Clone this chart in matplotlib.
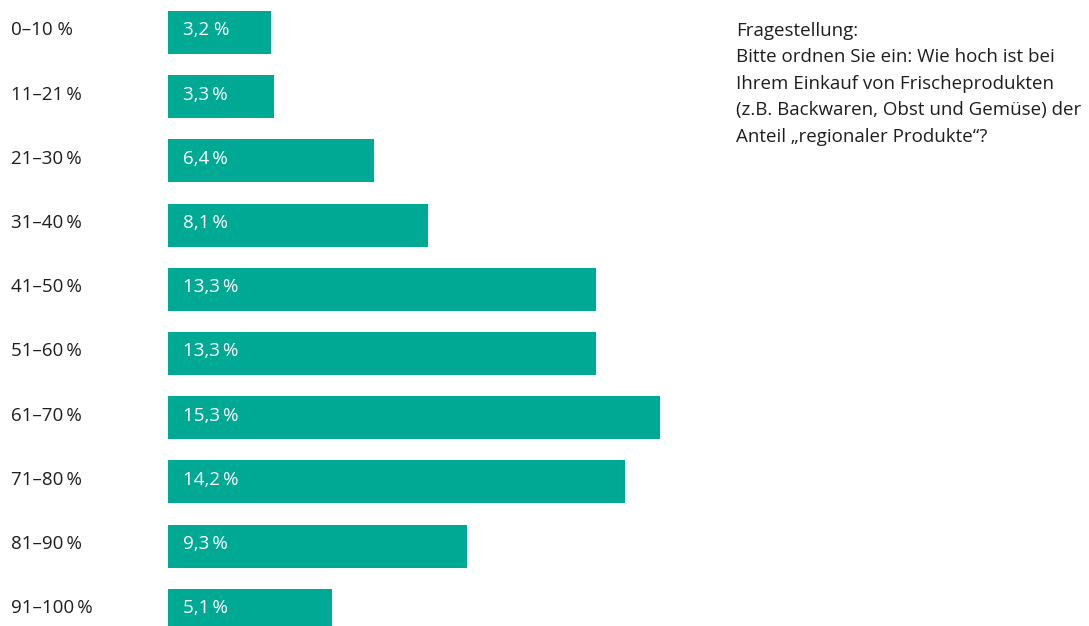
import matplotlib.pyplot as plt
from matplotlib.transforms import blended_transform_factory, offset_copy

plt.rcParams['font.family'] = ['Open Sans', 'DejaVu Sans']

# Anteil regionaler Produkte am Einkauf von Frischeprodukten
categories = ['0–10 %', '11–21\u2009%', '21–30\u2009%', '31–40\u2009%', '41–50\u2009%',
              '51–60\u2009%', '61–70\u2009%', '71–80\u2009%', '81–90\u2009%', '91–100\u2009%']
shares = [3.2, 3.3, 6.4, 8.1, 13.3, 13.3, 15.3, 14.2, 9.3, 5.1]
value_labels = ['3,2 %', '3,3\u2009%', '6,4\u2009%', '8,1\u2009%', '13,3\u2009%',
                '13,3\u2009%', '15,3\u2009%', '14,2\u2009%', '9,3\u2009%', '5,1\u2009%']

question = ('Fragestellung:\n'
            'Bitte ordnen Sie ein: Wie hoch ist bei\n'
            'Ihrem Einkauf von Frischeprodukten\n'
            '(z.B. Backwaren, Obst und Gemüse) der\n'
            'Anteil „regionaler Produkte“?')

bar_color = '#00a994'
text_color = '#1e1e1e'
fs = 13.5

W, H = 1089, 626
fig = plt.figure(figsize=(W / 100, H / 100), dpi=100)

# axes spans from the bar baseline to the question text column
left_px, right_px = 168, 700
ax = fig.add_axes([left_px / W, 0, (right_px - left_px) / W, 1])

px_per_unit = 32.16
row_px = 64.2
first_center_px = 32.5

ypos = list(range(len(categories)))
ax.barh(ypos, shares, height=43 / row_px, color=bar_color, left=0)
ax.set_xlim(0, (right_px - left_px) / px_per_unit)
ax.set_ylim((H - first_center_px) / row_px, -first_center_px / row_px)
ax.axis('off')

# category names at the left edge of the figure
trans = offset_copy(blended_transform_factory(fig.transFigure, ax.transData),
                    fig=fig, x=0, y=1.5, units='points')
for y, cat in zip(ypos, categories):
    ax.text(11 / W, y, cat, transform=trans, ha='left', va='center',
            fontsize=fs, color=text_color)

# value labels inside the bars
val_trans = offset_copy(ax.transData, fig=fig, x=11, y=1.5, units='points')
for y, v, lab in zip(ypos, shares, value_labels):
    ax.text(0, y, lab, transform=val_trans, ha='left', va='center',
            fontsize=fs, color='white')

fig.text(736 / W, 1 - 22 / H, question, ha='left', va='top',
         fontsize=fs, color=text_color, linespacing=1.6)

fig.savefig('out.png', dpi=100)
